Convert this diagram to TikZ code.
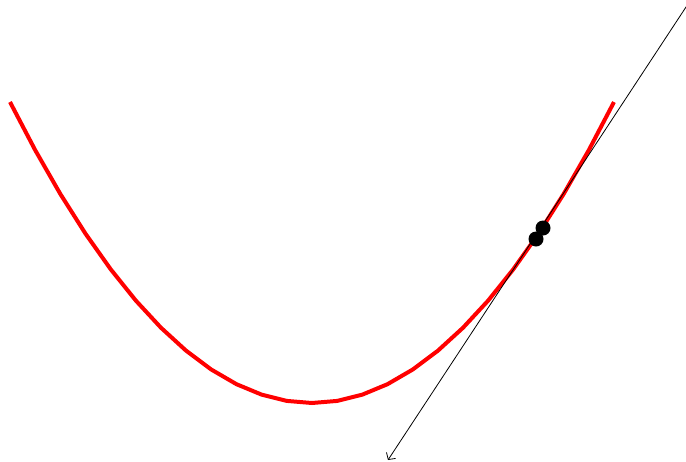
\documentclass[tikz,border=0pt]{standalone}
\usetikzlibrary{arrows.meta}
\begin{document}
\begin{tikzpicture}[x=1pt,y=-1pt,
  curve/.style={red,line width=4pt},
  dot/.style={circle,fill=black,inner sep=0pt,minimum size=15pt},
  tangent/.style={black,line width=0.8pt,{Straight Barb[length=5pt,width=11pt]}-{Straight Barb[length=5pt,width=11pt]}}]
\useasboundingbox (0,0) rectangle (686,461);
\clip (0,0) rectangle (686,461);
\draw[curve] plot[domain=-1:1, samples=25] ({312+302*\x}, {403-301*\x*\x});
\coordinate (a) at (388,460);
\coordinate (b) at (692.6,-3);
\draw[tangent] (a) -- (b);
\node[dot] (p) at (536,239) {};
\node[dot] (q) at (543,228) {};
\end{tikzpicture}
\end{document}
